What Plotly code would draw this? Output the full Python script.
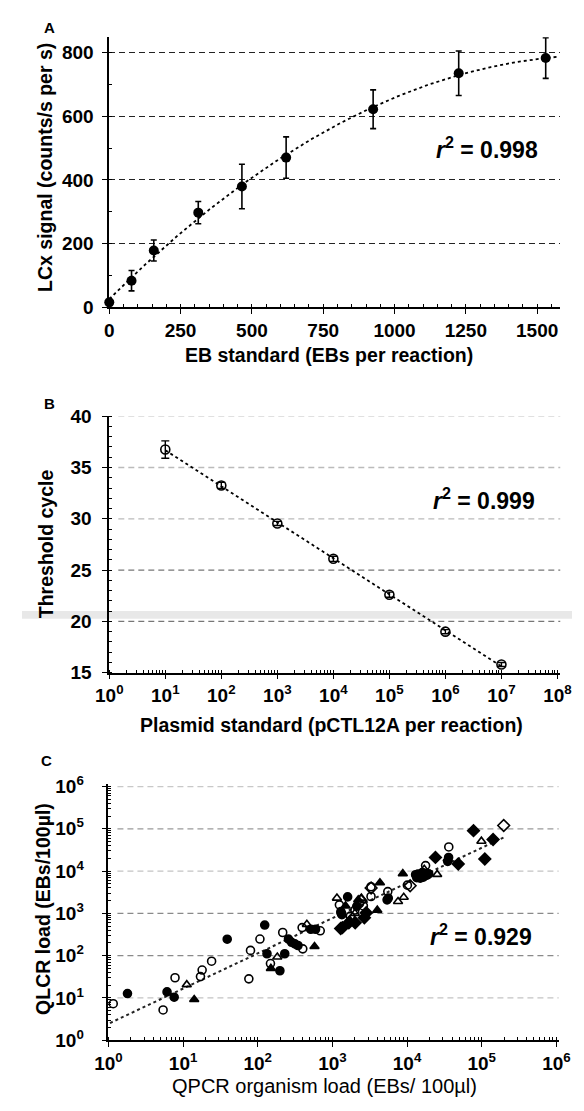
import numpy as np
import plotly.graph_objects as go

# page body has a default 8px margin, so the figure is shifted by OFF pixels
OFF = 8
W, H = 584 - OFF, 1111 - OFF
FONT = "Liberation Sans, Arial, sans-serif"

# ---------------- Data ----------------
# Panel A: LCx signal vs EB standard
a_x = [0, 78, 156, 312, 465, 620, 925, 1225, 1530]
a_y = [15, 83, 178, 297, 379, 470, 622, 735, 783]
a_err = [10, 32, 33, 35, 70, 65, 61, 70, 64]

# Panel B: threshold cycle vs plasmid standard
b_x = [1e1, 1e2, 1e3, 1e4, 1e5, 1e6, 1e7]
b_y = [36.75, 33.25, 29.55, 26.1, 22.6, 19.0, 15.8]
b_err = [0.85, 0.3, 0.2, 0.25, 0.25, 0.2, 0.2]

# Panel C: QLCR vs QPCR loads, by marker group
fc_x = [1.8, 6.1, 7.6, 39, 124, 133, 198, 230, 258, 284, 314, 346, 513, 595, 1340,
        1600, 1300, 2120, 5400, 5600, 36000, 35000, 13500, 14500, 15500, 16500, 17500,
        14000, 15000, 16000, 18500, 19500, 15000, 13000]
fc_y = [12.7, 13.9, 10.4, 245, 530, 111, 44, 111, 247, 207, 190, 174, 421, 421, 930,
        2450, 1030, 1470, 2090, 2290, 21000, 17000, 7000, 7500, 8300, 7200, 8800,
        8500, 6800, 9200, 8000, 8600, 7800, 8200]
fd_x = [1290, 1360, 1660, 2020, 2680, 2840, 24000, 48500, 110000, 142000, 77600]
fd_y = [440, 460, 600, 600, 790, 1030, 21100, 14800, 19300, 56000, 90600]
ft_x = [14.1, 150, 576, 1500, 2220, 3990, 4330, 8770, 35000]
ft_y = [9.2, 50, 165, 1500, 2090, 1190, 5300, 8700, 19500]
oc_x = [1.16, 5.4, 7.8, 17.1, 18, 24.1, 76, 80, 107, 148, 216, 401, 393, 687, 1240,
        1740, 2300, 2600, 3290, 5520, 10100, 17700, 36200, 3290, 1300, 2000]
oc_y = [7.3, 5.2, 30, 32, 45.7, 74, 28.3, 133, 247, 65, 353, 145, 461, 387, 1590,
        860, 1700, 1500, 4260, 3270, 4650, 13500, 37200, 2510, 1100, 1200]
od_x = [197000, 3300, 11000, 2400]
od_y = [120000, 4000, 4500, 2000]
ot_x = [11.2, 183, 455, 1150, 2450, 7570, 9020, 25300, 99000, 2000, 1700, 17000]
ot_y = [20.6, 93, 550, 2300, 2290, 1910, 2400, 8350, 51000, 1000, 700, 11000]

a_ticks = [0, 250, 500, 750, 1000, 1250, 1500]
a_yticks = [0, 200, 400, 600, 800]
b_ticks = [10 ** k for k in range(9)]
b_yticks = [15, 20, 25, 30, 35, 40]
c_ticks = [10 ** k for k in range(7)]
b_grid = [20, 25, 30, 35, 40]
b_grid_col = ["#777", "#777", "#bbb", "#bbb", "#c8c8c8"]
c_grid = [10, 100, 1000, 10000, 100000, 1000000]
c_grid_col = ["#c4c4c4", "#8a8a8a", "#8a8a8a", "#c4c4c4", "#9a9a9a", "#c8c8c8"]


def sup(v):
    return "10<sup>%d</sup>" % int(round(np.log10(v)))


def px(x):
    return (x - OFF) / W


def py(y):
    return 1 - (y - OFF) / H


fig = go.Figure()

# ---------- Panel A ----------
coef_a = np.polyfit(a_x, a_y, 2)
fa_x = np.linspace(0, 1575, 200)
fig.add_trace(go.Scatter(x=fa_x, y=np.polyval(coef_a, fa_x), mode="lines",
                         line=dict(color="black", width=1.8, dash="dot"),
                         xaxis="x", yaxis="y", hoverinfo="skip"))
fig.add_trace(go.Scatter(x=a_x, y=a_y, mode="markers",
                         marker=dict(symbol="circle", size=10, color="black"),
                         error_y=dict(type="data", array=a_err, color="black",
                                      thickness=1.6, width=3),
                         xaxis="x", yaxis="y", cliponaxis=False))

# ---------- Panel B ----------
lb = np.log10(b_x)
coef_b = np.polyfit(lb, b_y, 1)
fb_l = np.linspace(lb[0], lb[-1], 50)
fig.add_trace(go.Scatter(x=10 ** fb_l, y=np.polyval(coef_b, fb_l), mode="lines",
                         line=dict(color="black", width=1.8, dash="dot"),
                         xaxis="x2", yaxis="y2", hoverinfo="skip"))
fig.add_trace(go.Scatter(x=b_x, y=b_y, mode="markers",
                         marker=dict(symbol="circle-open", size=9, color="black",
                                     line=dict(width=1.6)),
                         error_y=dict(type="data", array=b_err, color="black",
                                      thickness=1.4, width=4),
                         xaxis="x2", yaxis="y2", cliponaxis=False))

# ---------- Panel C ----------
all_x = np.log10(fc_x + fd_x + ft_x + oc_x + od_x + ot_x)
all_y = np.log10(fc_y + fd_y + ft_y + oc_y + od_y + ot_y)
coef_c = np.polyfit(all_x, all_y, 1)
fc_l = np.linspace(np.log10(1.05), np.log10(2.0e5), 60)
fig.add_trace(go.Scatter(x=10 ** fc_l, y=10 ** np.polyval(coef_c, fc_l), mode="lines",
                         line=dict(color="#222", width=2, dash="dot"),
                         xaxis="x3", yaxis="y3", hoverinfo="skip"))
groups = [
    (fc_x, fc_y, "circle", 8),
    (fd_x, fd_y, "diamond", 9),
    (ft_x, ft_y, "triangle-up", 8),
    (oc_x, oc_y, "circle-open", 8),
    (od_x, od_y, "diamond-open", 9),
    (ot_x, ot_y, "triangle-up-open", 8),
]
for gx, gy, sym, sz in groups:
    fig.add_trace(go.Scatter(x=gx, y=gy, mode="markers",
                             marker=dict(symbol=sym, size=sz, color="black",
                                         line=dict(width=1.6, color="black")),
                             xaxis="x3", yaxis="y3", cliponaxis=False))

tickfont = dict(family=FONT, size=19, color="black", weight="bold")
axcommon = dict(showline=True, linecolor="black", linewidth=1.6, ticks="outside",
                ticklen=5, tickcolor="black", zeroline=False, tickfont=tickfont,
                mirror=False, fixedrange=True)


def minor(dt):
    return dict(ticks="inside", ticklen=3, tickcolor="black", dtick=dt, showgrid=False)


A_dom_x = [px(99.4), px(571.7)]
A_dom_y = [py(302), py(26.7)]
B_dom_x = [px(99.4), px(571.7)]
B_dom_y = [py(675), py(413.3)]
C_dom_x = [px(98.5), px(570)]
C_dom_y = [py(1050), py(789)]

fig.update_layout(
    width=W, height=H, margin=dict(l=0, r=0, t=0, b=0),
    paper_bgcolor="white", plot_bgcolor="white", showlegend=False,
    font=dict(family=FONT, color="black"),
    xaxis=dict(domain=A_dom_x, range=[0, 1581], tickvals=a_ticks,
               ticktext=[str(v) for v in a_ticks], anchor="y", showgrid=False,
               ticklabelstandoff=0, minor=minor(50), **axcommon),
    yaxis=dict(domain=A_dom_y, range=[0, 848], tickvals=a_yticks,
               ticktext=[str(v) for v in a_yticks], anchor="x", showgrid=True,
               gridcolor="#222", gridwidth=1.2, griddash="6px,4px",
               ticklabelstandoff=5, minor=minor(100), **axcommon),
    xaxis2=dict(domain=B_dom_x, type="log", range=[0, 8.05], tickvals=b_ticks,
                ticktext=[sup(v) for v in b_ticks], anchor="y2", showgrid=False,
                ticklabelstandoff=0, minor=minor("D1"), **axcommon),
    yaxis2=dict(domain=B_dom_y, range=[15, 40], tickvals=b_yticks,
                ticktext=[str(v) for v in b_yticks], anchor="x2", showgrid=False,
                ticklabelstandoff=7, minor=minor(1), **axcommon),
    xaxis3=dict(domain=C_dom_x, type="log", range=[0, 6.03], tickvals=c_ticks,
                ticktext=[sup(v) for v in c_ticks], anchor="y3", showgrid=False,
                ticklabelstandoff=0, minor=minor("D1"), **axcommon),
    yaxis3=dict(domain=C_dom_y, type="log", range=[0, 6.05], tickvals=c_ticks,
                ticktext=[sup(v) for v in c_ticks], anchor="x3", showgrid=False,
                ticklabelstandoff=14, minor=minor("D1"), **axcommon),
)

shapes = []
for v, col in zip(b_grid, b_grid_col):
    shapes.append(dict(type="line", xref="x2 domain", yref="y2", x0=0.02, x1=1.0,
                       y0=v, y1=v, line=dict(color=col, width=1.3, dash="6px,4px"),
                       layer="below"))
for v, col in zip(c_grid, c_grid_col):
    shapes.append(dict(type="line", xref="x3 domain", yref="y3", x0=0.02, x1=1.0,
                       y0=v, y1=v, line=dict(color=col, width=1.3, dash="6px,4px"),
                       layer="below"))
# faint horizontal scan band across panel B
shapes.append(dict(type="rect", xref="paper", yref="paper", x0=0, x1=1,
                   y0=py(620), y1=py(612), fillcolor="rgba(0,0,0,0.09)",
                   line=dict(width=0), layer="below"))
fig.update_layout(shapes=shapes)

titlefont = dict(family=FONT, size=19.5, color="black", weight="bold")
ann = []


def add_text(x, y, text, font, angle=0):
    ann.append(dict(x=px(x), y=py(y), xref="paper", yref="paper", text=text,
                    showarrow=False, font=font, textangle=angle,
                    xanchor="center", yanchor="middle"))


add_text(329, 351, "EB standard (EBs per reaction)", titlefont)
add_text(332, 728, "Plasmid standard (pCTL12A per reaction)", titlefont)
add_text(325, 1097, "QPCR organism load (EBs/ 100µl)",
         dict(family=FONT, size=20, color="black"))
add_text(32, 159, "LCx signal (counts/s per s)", titlefont, -90)
add_text(33, 543, "Threshold cycle", titlefont, -90)
add_text(30, 916, "QLCR load (EBs/100µl)", titlefont, -90)
letter = dict(family=FONT, size=15, color="black", weight="bold")
add_text(37, 17, "A", letter)
add_text(37, 400, "B", letter)
add_text(34, 765, "C", letter)
rfont = dict(family=FONT, size=23, color="black", weight="bold")
add_text(495, 140, "<i>r</i><sup>2</sup> = 0.998", rfont)
add_text(492, 498, "<i>r</i><sup>2</sup> = 0.999", rfont)
add_text(489, 943, "<i>r</i><sup>2</sup> = 0.929", rfont)
fig.update_layout(annotations=ann)

fig.write_html("out.html")
